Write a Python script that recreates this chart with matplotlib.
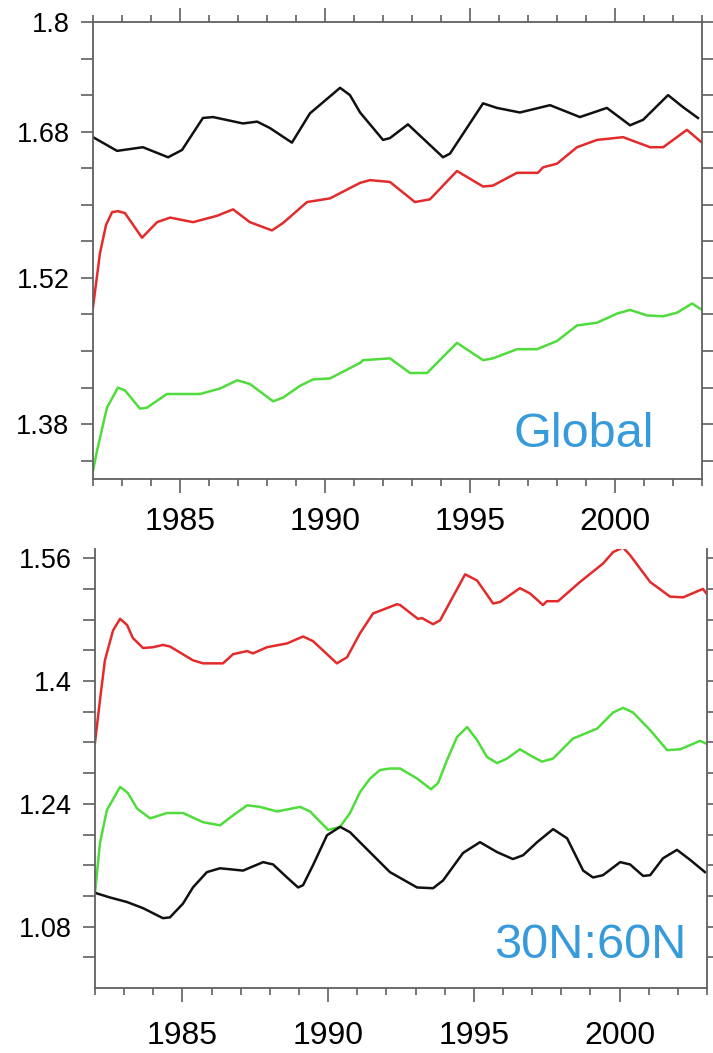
import matplotlib.pyplot as plt
from matplotlib.ticker import MultipleLocator

plt.rcParams['font.family'] = ['Liberation Sans', 'DejaVu Sans']

# ---- global mean (top panel) ----
g_black_yr = [1982.0, 1982.83, 1983.72, 1984.59, 1985.07, 1985.79, 1986.14, 1987.17, 1987.66, 1988.10,
              1988.86, 1989.48, 1990.52, 1990.86, 1991.21, 1992.0, 1992.24, 1992.86, 1994.07, 1994.31,
              1995.45, 1995.93, 1996.72, 1997.76, 1998.79, 1999.72, 2000.52, 2000.97, 2001.83, 2002.34, 2002.86]
g_black = [1.674, 1.659, 1.663, 1.652, 1.660, 1.695, 1.696, 1.689, 1.691, 1.684,
           1.668, 1.700, 1.728, 1.720, 1.701, 1.671, 1.673, 1.688, 1.652, 1.656,
           1.711, 1.706, 1.701, 1.709, 1.696, 1.706, 1.687, 1.693, 1.720, 1.707, 1.695]

g_red_yr = [1982.0, 1982.24, 1982.45, 1982.66, 1982.86, 1983.10, 1983.69, 1984.21, 1984.66, 1985.45,
            1986.28, 1986.83, 1987.41, 1988.17, 1988.55, 1989.38, 1990.17, 1991.21, 1991.55, 1992.24,
            1993.10, 1993.62, 1994.55, 1995.45, 1995.79, 1996.62, 1997.34, 1997.52, 1998.0, 1998.69,
            1999.38, 2000.28, 2001.21, 2001.66, 2002.48, 2003.0]
g_red = [1.488, 1.547, 1.578, 1.592, 1.593, 1.591, 1.564, 1.581, 1.586, 1.581,
         1.588, 1.595, 1.581, 1.572, 1.580, 1.603, 1.607, 1.624, 1.627, 1.625,
         1.603, 1.606, 1.637, 1.620, 1.621, 1.635, 1.635, 1.641, 1.645, 1.663,
         1.671, 1.674, 1.663, 1.663, 1.682, 1.668]

g_green_yr = [1982.0, 1982.14, 1982.48, 1982.86, 1983.10, 1983.62, 1983.86, 1984.55, 1985.69, 1986.38,
              1986.97, 1987.41, 1988.21, 1988.55, 1989.14, 1989.59, 1990.17, 1991.21, 1991.31, 1992.24,
              1992.93, 1993.52, 1994.55, 1995.45, 1995.79, 1996.62, 1997.31, 1998.0, 1998.69, 1999.38,
              2000.07, 2000.52, 2001.10, 2001.66, 2002.14, 2002.66, 2003.0]
g_green = [1.309, 1.331, 1.378, 1.400, 1.397, 1.377, 1.378, 1.393, 1.393, 1.399,
           1.408, 1.404, 1.385, 1.389, 1.402, 1.409, 1.410, 1.427, 1.430, 1.432,
           1.416, 1.416, 1.449, 1.430, 1.432, 1.442, 1.442, 1.451, 1.468, 1.471,
           1.481, 1.485, 1.479, 1.478, 1.482, 1.492, 1.485]

# ---- 30N-60N band (bottom panel) ----
n_red_yr = [1982.0, 1982.17, 1982.34, 1982.62, 1982.86, 1983.10, 1983.30, 1983.65, 1983.99, 1984.33,
            1984.57, 1985.36, 1985.71, 1986.39, 1986.74, 1987.22, 1987.42, 1987.90, 1988.59, 1989.14,
            1989.48, 1990.30, 1990.65, 1991.09, 1991.54, 1992.36, 1992.47, 1993.08, 1993.22, 1993.60,
            1993.84, 1994.70, 1995.11, 1995.66, 1995.90, 1996.58, 1996.93, 1997.37, 1997.51, 1997.89,
            1998.64, 1999.43, 1999.78, 2000.12, 2000.36, 2001.05, 2001.73, 2002.18, 2002.86, 2003.0]
n_red = [1.320, 1.375, 1.427, 1.466, 1.481, 1.473, 1.456, 1.443, 1.444, 1.447,
         1.445, 1.427, 1.423, 1.423, 1.435, 1.439, 1.436, 1.444, 1.449, 1.458,
         1.452, 1.423, 1.431, 1.462, 1.488, 1.500, 1.499, 1.481, 1.482, 1.474,
         1.479, 1.539, 1.531, 1.501, 1.503, 1.521, 1.514, 1.499, 1.504, 1.504,
         1.529, 1.553, 1.568, 1.574, 1.564, 1.529, 1.510, 1.509, 1.520, 1.513]

n_green_yr = [1982.0, 1982.17, 1982.41, 1982.86, 1983.13, 1983.44, 1983.89, 1984.47, 1985.02, 1985.71,
              1986.29, 1986.74, 1987.22, 1987.66, 1988.25, 1989.04, 1989.38, 1990.0, 1990.41, 1990.75,
              1991.09, 1991.44, 1991.78, 1992.12, 1992.47, 1993.05, 1993.53, 1993.77, 1994.08, 1994.42,
              1994.77, 1995.11, 1995.45, 1995.80, 1996.14, 1996.58, 1997.03, 1997.34, 1997.72, 1998.40,
              1999.23, 1999.78, 2000.12, 2000.46, 2001.05, 2001.63, 2002.08, 2002.76, 2003.0]
n_green = [1.124, 1.189, 1.232, 1.262, 1.254, 1.234, 1.221, 1.228, 1.228, 1.216,
           1.212, 1.225, 1.238, 1.236, 1.230, 1.236, 1.230, 1.206, 1.210, 1.228,
           1.255, 1.273, 1.284, 1.286, 1.286, 1.273, 1.259, 1.267, 1.297, 1.327,
           1.340, 1.323, 1.301, 1.293, 1.299, 1.311, 1.301, 1.295, 1.299, 1.325,
           1.338, 1.359, 1.365, 1.359, 1.336, 1.310, 1.311, 1.322, 1.318]

n_black_yr = [1982.0, 1982.51, 1983.10, 1983.65, 1984.33, 1984.57, 1985.02, 1985.36, 1985.84, 1986.29,
              1987.08, 1987.77, 1988.11, 1988.59, 1988.97, 1989.14, 1989.48, 1989.96, 1990.41, 1990.75,
              1991.09, 1992.12, 1993.05, 1993.60, 1993.94, 1994.63, 1995.21, 1995.80, 1996.34, 1996.69,
              1997.17, 1997.72, 1998.20, 1998.75, 1999.09, 1999.43, 2000.02, 2000.36, 2000.81, 2001.05,
              2001.49, 2001.97, 2002.42, 2002.93]
n_black = [1.124, 1.118, 1.112, 1.104, 1.091, 1.092, 1.110, 1.131, 1.151, 1.156,
           1.153, 1.164, 1.161, 1.144, 1.131, 1.134, 1.160, 1.199, 1.210, 1.203,
           1.190, 1.151, 1.131, 1.130, 1.140, 1.176, 1.190, 1.177, 1.168, 1.173,
           1.190, 1.207, 1.195, 1.153, 1.144, 1.147, 1.164, 1.161, 1.146, 1.147,
           1.169, 1.180, 1.167, 1.151]

year_ticks = [1985, 1990, 1995, 2000]
year_labels = ['1985', '1990', '1995', '2000']

top_yticks = [1.8 - 0.04 * i for i in range(13)]
top_ylabels = {0: '1.8', 3: '1.68', 7: '1.52', 11: '1.38'}
bot_yticks = [1.56 - 0.04 * i for i in range(14)]
bot_ylabels = {0: '1.56', 4: '1.4', 8: '1.24', 12: '1.08'}

BLACK = '#111111'
RED = '#e32b2b'
GREEN = '#4fdc3c'
BLUE = '#379bdb'
AXC = '#606060'
LW = 1.8


def style_axes(ax, yticks, ylabels, show_top, xpad):
    ax.set_xlim(1982, 2003)
    ax.set_xticks(year_ticks)
    ax.set_xticklabels(year_labels)
    ax.xaxis.set_minor_locator(MultipleLocator(1))
    ax.set_yticks(yticks)
    ax.set_yticklabels([ylabels.get(i, '') for i in range(len(yticks))])
    for side in ['left', 'right', 'bottom', 'top']:
        ax.spines[side].set_color(AXC)
        ax.spines[side].set_linewidth(1.3)
    ax.spines['top'].set_visible(show_top)
    ax.tick_params(axis='x', which='major', direction='out', length=10, width=1.2, color=AXC,
                   labelsize=23, pad=xpad, top=show_top, bottom=True)
    ax.tick_params(axis='x', which='minor', direction='out', length=5, width=1.2, color=AXC,
                   top=show_top, bottom=True)
    ax.tick_params(axis='y', which='major', direction='out', length=9, width=1.2, color=AXC,
                   labelsize=19.5, pad=8, left=True, right=True)


fig = plt.figure(figsize=(7.13, 10.53), dpi=100)

ax1 = fig.add_axes([93 / 713, 1 - 479 / 1053, 609 / 713, 457 / 1053])
ax1.plot(g_black_yr, g_black, color=BLACK, lw=LW)
ax1.plot(g_red_yr, g_red, color=RED, lw=LW)
ax1.plot(g_green_yr, g_green, color=GREEN, lw=LW)
ax1.set_ylim(1.3, 1.8)
style_axes(ax1, top_yticks, top_ylabels, True, 10)
ax1.text(0.921, 0.07, 'Global', transform=ax1.transAxes, ha='right', va='baseline',
         fontsize=35, color=BLUE)

ax2 = fig.add_axes([95 / 713, 1 - 988 / 1053, 612 / 713, 439 / 1053])
ax2.plot(n_red_yr, n_red, color=RED, lw=LW)
ax2.plot(n_green_yr, n_green, color=GREEN, lw=LW)
ax2.plot(n_black_yr, n_black, color=BLACK, lw=LW)
ax2.set_ylim(1.0, 1.572)
style_axes(ax2, bot_yticks, bot_ylabels, False, 14)
ax2.text(0.967, 0.068, '30N:60N', transform=ax2.transAxes, ha='right', va='baseline',
         fontsize=35, color=BLUE)

fig.savefig('out.png', dpi=100)
